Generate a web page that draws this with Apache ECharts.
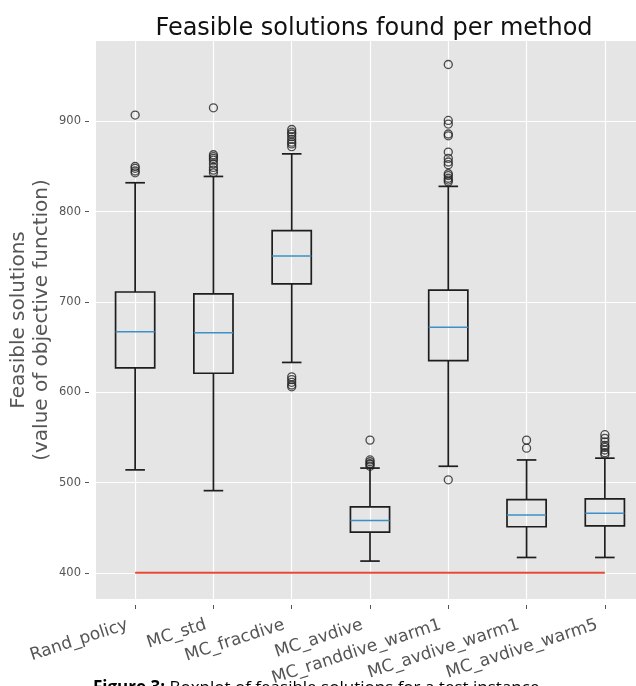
<!DOCTYPE html>
<html><head><meta charset="utf-8">
<script src="https://cdn.jsdelivr.net/npm/echarts@6/dist/echarts.min.js"></script>
<style>html,body{margin:0;padding:0;background:#fff}#c{width:636px;height:686px}</style>
</head><body><div id="c"></div>
<script>
const categories = ['Rand_policy', 'MC_std', 'MC_fracdive', 'MC_avdive', 'MC_randdive_warm1', 'MC_avdive_warm1', 'MC_avdive_warm5'];
const whiskerLow  = [514, 491, 633, 413, 518, 417, 417];
const q1          = [627, 621, 720, 445, 635, 451, 452];
const median      = [667, 666, 751, 458, 672, 464, 466];
const q3          = [711, 709, 779, 473, 713, 481, 482];
const whiskerHigh = [832, 839, 864, 516, 828, 525, 527];
const outliers = [
  [843, 845, 848, 850, 907],
  [843, 846, 849, 853, 857, 859, 861, 863, 915],
  [606, 608, 611, 614, 617, 872, 875, 877, 880, 883, 886, 888, 891],
  [518, 520, 521, 523, 525, 547],
  [503, 833, 835, 837, 840, 842, 852, 855, 859, 866, 884, 886, 897, 901, 963],
  [538, 547],
  [531, 533, 536, 539, 541, 545, 549, 553]
];
const baselineValue = 400;
const yTicks = [400, 500, 600, 700, 800, 900];
const xTicks = [1, 2, 3, 4, 5, 6, 7];

const boxData = categories.map((c, i) => [i + 1, whiskerLow[i], q1[i], median[i], q3[i], whiskerHigh[i]]);
const outlierData = [];
outliers.forEach((arr, i) => arr.forEach(v => outlierData.push([i + 1, v])));
const lineData = [[1, baselineValue], [categories.length, baselineValue]];

const chart = echarts.init(document.getElementById('c'), null, {renderer: 'canvas'});
const FONT = 'DejaVu Sans';
chart.setOption({
  animation: false,
  backgroundColor: '#ffffff',
  title: {
    text: 'Feasible solutions found per method',
    left: 369, top: 12, textAlign: 'center',
    textStyle: {fontFamily: FONT, fontSize: 24, fontWeight: 'normal', color: '#111'}
  },
  grid: {left: 96, top: 41, width: 548, height: 558, show: true, backgroundColor: '#E5E5E5', borderWidth: 0,
         containLabel: false, outerBoundsMode: 'none'},
  xAxis: {
    type: 'value', min: 0.5, max: 7.5, splitNumber: 7, minInterval: 1, maxInterval: 1, offset: 6,
    axisLine: {show: false},
    axisTick: {show: true, length: 4, lineStyle: {color: '#555', width: 1}, customValues: xTicks},
    axisLabel: {
      customValues: xTicks, rotate: 18, margin: 17, padding: [0, 8, 0, 0], color: '#555', fontFamily: FONT, fontSize: 17,
      formatter: v => Number.isInteger(v) ? (categories[v - 1] || '') : ''
    },
    splitLine: {show: true, lineStyle: {color: '#ffffff', width: 1.2}}
  },
  yAxis: {
    type: 'value', min: 371, max: 989, splitNumber: 6, minInterval: 100, maxInterval: 100, offset: 7,
    axisLine: {show: false},
    axisTick: {show: true, length: 4, lineStyle: {color: '#555', width: 1}, customValues: yTicks},
    axisLabel: {
      customValues: yTicks, margin: 8, color: '#555', fontFamily: FONT, fontSize: 11.5,
      formatter: v => (v % 100 === 0 ? String(v) : '')
    },
    splitLine: {show: true, lineStyle: {color: '#ffffff', width: 1.2}}
  },
  graphic: [
    {
      type: 'text', x: 30, y: 320, rotation: Math.PI / 2,
      style: {
        text: 'Feasible solutions\n(value of objective function)',
        align: 'center', verticalAlign: 'middle', lineHeight: 23,
        font: '20px "DejaVu Sans"', fill: '#555'
      }
    },
    {
      type: 'text', x: 93, y: 680,
      style: {
        text: '{b|Figure 3:} Boxplot of feasible solutions for a test instance',
        rich: {b: {fontWeight: 'bold', fontFamily: 'Open Sans', fontSize: 17, fill: '#000'}},
        font: '17px "Open Sans"', fill: '#000', verticalAlign: 'top', align: 'left'
      }
    }
  ],
  series: [
    {
      type: 'line', data: lineData, symbol: 'none', z: 3,
      lineStyle: {color: '#E24A33', width: 2}
    },
    {
      type: 'custom', data: boxData, z: 4,
      encode: {x: 0, y: [1, 2, 3, 4, 5]},
      renderItem: function (params, api) {
        const x = api.value(0);
        const lo = api.coord([x, api.value(1)]);
        const b1 = api.coord([x, api.value(2)]);
        const md = api.coord([x, api.value(3)]);
        const b3 = api.coord([x, api.value(4)]);
        const hi = api.coord([x, api.value(5)]);
        const bw = api.size([0.5, 0])[0];
        const cw = bw / 2;
        const cx = lo[0];
        const st = {stroke: '#1e1e1e', lineWidth: 1.7, fill: 'transparent'};
        return {
          type: 'group', children: [
            {type: 'line', shape: {x1: cx, y1: b1[1], x2: cx, y2: lo[1]}, style: st},
            {type: 'line', shape: {x1: cx, y1: b3[1], x2: cx, y2: hi[1]}, style: st},
            {type: 'line', shape: {x1: cx - cw / 2, y1: lo[1], x2: cx + cw / 2, y2: lo[1]}, style: st},
            {type: 'line', shape: {x1: cx - cw / 2, y1: hi[1], x2: cx + cw / 2, y2: hi[1]}, style: st},
            {type: 'rect', shape: {x: cx - bw / 2, y: b3[1], width: bw, height: b1[1] - b3[1]}, style: st},
            {type: 'line', shape: {x1: cx - bw / 2, y1: md[1], x2: cx + bw / 2, y2: md[1]}, style: {stroke: '#3D8FC6', lineWidth: 1.5}}
          ]
        };
      }
    },
    {
      type: 'scatter', data: outlierData, symbol: 'circle', symbolSize: 8, z: 5,
      itemStyle: {color: 'rgba(0,0,0,0)', borderColor: '#222', borderWidth: 1.3}
    }
  ]
});
</script></body></html>
